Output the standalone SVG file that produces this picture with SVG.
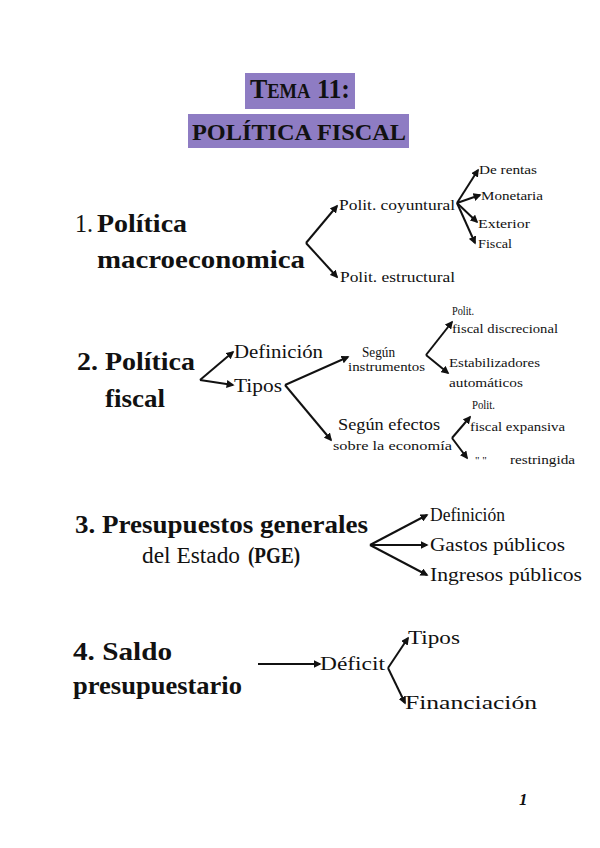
<svg xmlns="http://www.w3.org/2000/svg" width="600" height="848" viewBox="0 0 600 848" font-family="'Liberation Serif', 'DejaVu Serif', serif">
<style>
text{font-family:'Liberation Serif','DejaVu Serif',serif;fill:#111;}
.h{font-weight:bold;font-size:25px;}
.t{font-weight:bold;}
.box{fill:#8e7cc3;}
.c line{stroke:#111;stroke-width:2;fill:none;marker-end:url(#ah);}
</style>
<defs>
<marker id="ah" viewBox="0 0 10 10" refX="8" refY="5" markerWidth="4" markerHeight="4" orient="auto" markerUnits="strokeWidth">
<path d="M0,0 L10,5 L0,10 z" fill="#111"/>
</marker>
</defs>
<rect width="600" height="848" fill="#fff"/>

<g id="title">
<rect class="box" x="245" y="73" width="110" height="36"/>
<text class="t" x="250" y="98" font-size="28" style="font-variant:small-caps" textLength="100" lengthAdjust="spacingAndGlyphs">Tema 11:</text>
<rect class="box" x="188" y="114" width="221" height="34"/>
<text class="t" x="192" y="140" font-size="24" textLength="214" lengthAdjust="spacingAndGlyphs">POLÍTICA FISCAL</text>
</g>

<g id="n1">
<text x="75" y="232" font-size="25" textLength="18" lengthAdjust="spacingAndGlyphs">1.</text>
<text class="h" x="97" y="232" textLength="90" lengthAdjust="spacingAndGlyphs">Política</text>
<text class="h" x="97" y="268" textLength="208" lengthAdjust="spacingAndGlyphs">macroeconomica</text>
</g>
<g id="n1a"><text x="339" y="210" font-size="15" textLength="116" lengthAdjust="spacingAndGlyphs">Polit. coyuntural</text></g>
<g id="n1b"><text x="340" y="282" font-size="15" textLength="115" lengthAdjust="spacingAndGlyphs">Polit. estructural</text></g>
<g id="n1a1"><text x="479" y="174" font-size="12" textLength="58" lengthAdjust="spacingAndGlyphs">De rentas</text></g>
<g id="n1a2"><text x="481" y="200" font-size="12" textLength="62" lengthAdjust="spacingAndGlyphs">Monetaria</text></g>
<g id="n1a3"><text x="478" y="228" font-size="12" textLength="52" lengthAdjust="spacingAndGlyphs">Exterior</text></g>
<g id="n1a4"><text x="478" y="248" font-size="12" textLength="34" lengthAdjust="spacingAndGlyphs">Fiscal</text></g>

<g id="n2">
<text class="h" x="77" y="370" textLength="118" lengthAdjust="spacingAndGlyphs">2. Política</text>
<text class="h" x="105" y="407" textLength="60" lengthAdjust="spacingAndGlyphs">fiscal</text>
</g>
<g id="n2a"><text x="234" y="358" font-size="19" textLength="89" lengthAdjust="spacingAndGlyphs">Definición</text></g>
<g id="n2b"><text x="234" y="392" font-size="19" textLength="48" lengthAdjust="spacingAndGlyphs">Tipos</text></g>
<g id="n2b1">
<text x="362" y="357" font-size="15" textLength="33" lengthAdjust="spacingAndGlyphs">Según</text>
<text x="348" y="371" font-size="12" textLength="77" lengthAdjust="spacingAndGlyphs">instrumentos</text>
</g>
<g id="n2b1a">
<text x="452" y="315" font-size="13" textLength="22" lengthAdjust="spacingAndGlyphs">Polit.</text>
<text x="452" y="333" font-size="13" textLength="106" lengthAdjust="spacingAndGlyphs">fiscal discrecional</text>
</g>
<g id="n2b1b">
<text x="449" y="367" font-size="13" textLength="91" lengthAdjust="spacingAndGlyphs">Estabilizadores</text>
<text x="449" y="387" font-size="13" textLength="74" lengthAdjust="spacingAndGlyphs">automáticos</text>
</g>
<g id="n2b2">
<text x="338" y="430" font-size="16" textLength="102" lengthAdjust="spacingAndGlyphs">Según efectos</text>
<text x="333" y="450" font-size="13" textLength="119" lengthAdjust="spacingAndGlyphs">sobre la economía</text>
</g>
<g id="n2b2a">
<text x="472" y="409" font-size="13" textLength="23" lengthAdjust="spacingAndGlyphs">Polit.</text>
<text x="470" y="431" font-size="13" textLength="95" lengthAdjust="spacingAndGlyphs">fiscal expansiva</text>
</g>
<g id="n2b2b">
<text x="475" y="464" font-size="11">"  "</text>
<text x="510" y="464" font-size="13" textLength="65" lengthAdjust="spacingAndGlyphs">restringida</text>
</g>

<g id="n3">
<text class="h" x="75" y="533" textLength="293" lengthAdjust="spacingAndGlyphs">3. Presupuestos generales</text>
<text x="142" y="563" font-size="24" textLength="98" lengthAdjust="spacingAndGlyphs">del Estado</text>
<text x="248" y="563" font-size="24" font-weight="bold" textLength="52" lengthAdjust="spacingAndGlyphs">(PGE)</text>
</g>
<g id="n3a"><text x="430" y="521" font-size="18" textLength="75" lengthAdjust="spacingAndGlyphs">Definición</text></g>
<g id="n3b"><text x="430" y="551" font-size="18" textLength="135" lengthAdjust="spacingAndGlyphs">Gastos públicos</text></g>
<g id="n3c"><text x="430" y="581" font-size="18" textLength="152" lengthAdjust="spacingAndGlyphs">Ingresos públicos</text></g>

<g id="n4">
<text class="h" x="73" y="660" textLength="99" lengthAdjust="spacingAndGlyphs">4. Saldo</text>
<text class="h" x="73" y="694" textLength="169" lengthAdjust="spacingAndGlyphs">presupuestario</text>
</g>
<g id="n4a"><text x="320" y="670" font-size="19" textLength="65" lengthAdjust="spacingAndGlyphs">Déficit</text></g>
<g id="n4a1"><text x="408" y="644" font-size="19" textLength="52" lengthAdjust="spacingAndGlyphs">Tipos</text></g>
<g id="n4a2"><text x="405" y="709" font-size="19" textLength="132" lengthAdjust="spacingAndGlyphs">Financiación</text></g>

<g id="page"><text x="519" y="805" font-size="17" font-weight="bold" font-style="italic">1</text></g>

<g class="c" id="connectors">
<line x1="306" y1="243" x2="337" y2="206"/>
<line x1="306" y1="243" x2="337" y2="277"/>
<line x1="457" y1="203" x2="478" y2="170"/>
<line x1="457" y1="203" x2="480" y2="195"/>
<line x1="457" y1="203" x2="477" y2="222"/>
<line x1="457" y1="203" x2="475" y2="243"/>
<line x1="200" y1="380" x2="233" y2="352"/>
<line x1="200" y1="380" x2="233" y2="385"/>
<line x1="285" y1="385" x2="348" y2="357"/>
<line x1="285" y1="385" x2="331" y2="440"/>
<line x1="426" y1="355" x2="452" y2="322"/>
<line x1="426" y1="355" x2="448" y2="373"/>
<line x1="452" y1="438" x2="470" y2="417"/>
<line x1="452" y1="438" x2="467" y2="458"/>
<line x1="370" y1="545" x2="427" y2="515"/>
<line x1="370" y1="545" x2="427" y2="545"/>
<line x1="370" y1="545" x2="427" y2="575"/>
<line x1="258" y1="664" x2="320" y2="664"/>
<line x1="388" y1="668" x2="408" y2="638"/>
<line x1="388" y1="668" x2="405" y2="703"/>
</g>
</svg>
